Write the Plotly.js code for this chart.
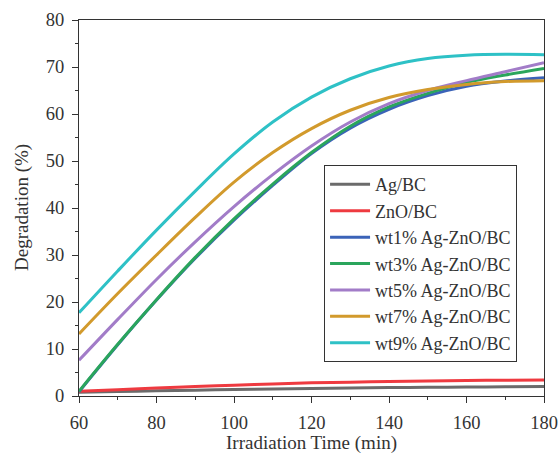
<!DOCTYPE html>
<html><head><meta charset="utf-8">
<script src="https://cdn.plot.ly/plotly-3.0.1.min.js"></script>
<style>html,body{margin:0;padding:0;background:#fff;}#chart{width:558px;height:455px;}</style>
</head><body><div id="chart"></div>
<script>
const time = [60, 70, 80, 90, 100, 110, 120, 130, 140, 150, 160, 170, 180];
const seriesNames = ["Ag/BC", "ZnO/BC", "wt1% Ag-ZnO/BC", "wt3% Ag-ZnO/BC", "wt5% Ag-ZnO/BC", "wt7% Ag-ZnO/BC", "wt9% Ag-ZnO/BC"];
const agBC   = [0.8, 0.95, 1.1, 1.25, 1.4, 1.5, 1.6, 1.7, 1.8, 1.85, 1.9, 1.95, 2.0];
const znoBC  = [1.0, 1.35, 1.7, 2.0, 2.3, 2.55, 2.8, 2.95, 3.1, 3.2, 3.3, 3.35, 3.4];
const wt1    = [0.9, 10.9, 20.4, 29.3, 37.4, 44.8, 51.6, 57.0, 61.0, 63.9, 65.9, 67.0, 67.7];
const wt3    = [1.0, 11.0, 20.5, 29.5, 37.7, 45.1, 51.8, 57.4, 61.5, 64.4, 66.7, 68.3, 69.7];
const wt5    = [7.6, 16.3, 24.8, 32.8, 40.3, 47.1, 53.2, 58.3, 62.2, 65.0, 67.1, 69.0, 70.9];
const wt7    = [13.2, 21.8, 30.0, 38.0, 45.5, 51.8, 56.9, 60.8, 63.5, 65.2, 66.3, 66.9, 67.1];
const wt9    = [17.7, 26.6, 35.3, 43.6, 51.5, 58.3, 63.6, 67.5, 70.2, 71.8, 72.5, 72.7, 72.6];
const xTicks = [60, 80, 100, 120, 140, 160, 180];
const yTicks = [0, 10, 20, 30, 40, 50, 60, 70, 80];
const xTitle = "Irradiation Time (min)";
const yTitle = "Degradation (%)";

const colors = ["#6b6b6b", "#ee3a40", "#3b63b8", "#2aa55c", "#a27cc8", "#d29a2c", "#2ec1c6"];
const values = [agBC, znoBC, wt1, wt3, wt5, wt7, wt9];

const traces = values.map((v, i) => ({
  x: time, y: v, name: seriesNames[i], type: "scatter", mode: "lines",
  line: {color: colors[i], width: 3, shape: "spline", smoothing: 1.0}
}));

const fam = "Liberation Serif, Times New Roman, serif";
const layout = {
  width: 558, height: 455,
  margin: {l: 79, r: 14, t: 20, b: 59},
  paper_bgcolor: "#fff", plot_bgcolor: "#fff",
  font: {family: fam, size: 18, color: "#333"},
  showlegend: true,
  legend: {
    x: 0.527, y: 0.614, xanchor: "left", yanchor: "top",
    bordercolor: "#333", borderwidth: 1, bgcolor: "#fff",
    font: {family: fam, size: 18, color: "#333"},
    tracegroupgap: 0, itemwidth: 40
  },
  xaxis: {
    range: [60, 180], tickvals: xTicks, ticktext: xTicks.map(String),
    automargin: false,
    showgrid: false, zeroline: false,
    showline: true, linecolor: "#333", linewidth: 1, mirror: true,
    ticks: "outside", ticklen: 6, tickcolor: "#333", ticklabelstandoff: 4,
    minor: {dtick: 10, ticks: "outside", ticklen: 3, tickcolor: "#333", showgrid: false},
    tickfont: {family: fam, size: 18.5, color: "#333"}
  },
  yaxis: {
    range: [0, 80], tickvals: yTicks, ticktext: yTicks.map(String),
    automargin: false,
    showgrid: false, zeroline: false,
    showline: true, linecolor: "#333", linewidth: 1, mirror: true,
    ticks: "outside", ticklen: 6, tickcolor: "#333", ticklabelstandoff: 4,
    minor: {dtick: 5, ticks: "outside", ticklen: 3, tickcolor: "#333", showgrid: false},
    tickfont: {family: fam, size: 18.5, color: "#333"}
  },
  annotations: [
    {text: xTitle, xref: "paper", yref: "paper", x: 0.5, y: 0, xanchor: "center", yanchor: "middle",
     yshift: -47, showarrow: false, borderpad: 0, font: {family: fam, size: 19, color: "#333"}},
    {text: yTitle, xref: "paper", yref: "paper", x: 0, y: 0.5, xanchor: "center", yanchor: "middle",
     xshift: -57, textangle: -90, showarrow: false, borderpad: 0, font: {family: fam, size: 19, color: "#333"}}
  ]
};
Plotly.newPlot("chart", traces, layout, {displayModeBar: false, staticPlot: true});
</script></body></html>
